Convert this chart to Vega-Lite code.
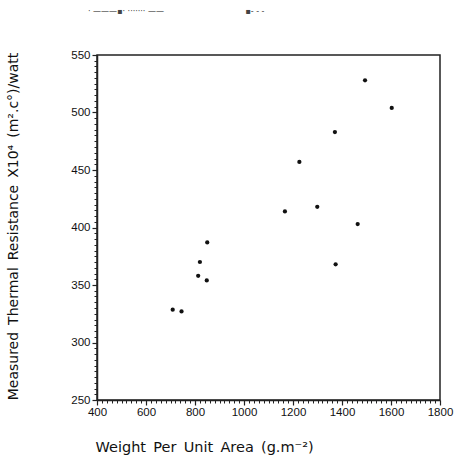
{
  "$schema": "https://vega.github.io/schema/vega-lite/v6.json",
  "width": 343,
  "height": 345,
  "autosize": {"type": "none"},
  "padding": {"left": 97, "top": 55, "right": 16, "bottom": 65},
  "background": "white",
  "config": {
    "view": {"stroke": "#222", "strokeWidth": 1.5},
    "font": "DejaVu Sans"
  },
  "title": {
    "text": "·\u00a0———▪·\u00a0·······\u00a0——\u00a0\u00a0\u00a0\u00a0\u00a0\u00a0\u00a0\u00a0\u00a0\u00a0\u00a0\u00a0\u00a0\u00a0\u00a0\u00a0\u00a0\u00a0\u00a0\u00a0\u00a0\u00a0\u00a0\u00a0\u00a0\u00a0\u00a0\u00a0\u00a0\u00a0\u00a0\u00a0▪- - -",
    "anchor": "start",
    "frame": "group",
    "offset": 33,
    "dx": -9,
    "fontSize": 8,
    "fontWeight": "normal",
    "color": "#444"
  },
  "data": {
    "values": [
      {"w": 709, "r": 328.5},
      {"w": 745, "r": 327},
      {"w": 813, "r": 358},
      {"w": 820, "r": 370},
      {"w": 848, "r": 354},
      {"w": 850, "r": 387},
      {"w": 1167, "r": 414},
      {"w": 1226, "r": 457},
      {"w": 1299, "r": 418},
      {"w": 1371, "r": 483},
      {"w": 1374, "r": 368},
      {"w": 1464, "r": 403},
      {"w": 1494, "r": 528},
      {"w": 1603, "r": 504}
    ]
  },
  "layer": [
    {
      "mark": {"type": "point", "filled": true, "color": "#111", "size": 18, "opacity": 1},
      "encoding": {
        "x": {
          "field": "w", "type": "quantitative",
          "scale": {"domain": [400, 1800], "nice": false, "zero": false},
          "axis": {
            "orient": "bottom",
            "values": [400, 600, 800, 1000, 1200, 1400, 1600, 1800],
            "format": "d",
            "grid": false, "domain": true, "domainColor": "#222", "domainWidth": 1.5,
            "tickColor": "#222", "tickSize": 5, "tickWidth": 1.2,
            "labelFont": "Liberation Sans", "labelFontSize": 11.5, "labelColor": "#111",
            "labelPadding": 1, "labelFlush": false,
            "title": "Weight\u2002Per\u2002Unit\u2002Area\u2002(g.m⁻²)",
            "titleFont": "DejaVu Sans", "titleFontSize": 14.5, "titleFontWeight": "normal",
            "titleColor": "#111", "titleAnchor": "start", "titleAlign": "left",
            "titleX": -2, "titleY": 51, "titleBaseline": "alphabetic"
          }
        },
        "y": {
          "field": "r", "type": "quantitative",
          "scale": {"domain": [250, 550], "nice": false, "zero": false},
          "axis": {
            "orient": "left",
            "values": [250, 300, 350, 400, 450, 500, 550],
            "format": "d",
            "grid": false, "domain": true, "domainColor": "#222", "domainWidth": 1.5,
            "tickColor": "#222", "tickSize": 5, "tickWidth": 1.2,
            "labelFont": "Liberation Sans", "labelFontSize": 11.5, "labelColor": "#111",
            "labelPadding": 2,
            "title": "Measured\u2002Thermal\u2002Resistance\u2002X10⁴\u2002(m².c°)/watt",
            "titleFont": "DejaVu Sans", "titleFontSize": 14, "titleFontWeight": "normal",
            "titleColor": "#111", "titleX": -77, "titleY": 171, "titleAngle": -90,
            "titleBaseline": "bottom", "titleAlign": "center"
          }
        }
      }
    },
    {
      "mark": {"type": "point", "opacity": 0},
      "encoding": {
        "x": {
          "field": "w", "type": "quantitative",
          "scale": {"domain": [400, 1800], "nice": false, "zero": false},
          "axis": {
            "orient": "bottom",
            "values": [420,440,460,480,500,520,540,560,580,620,640,660,680,700,720,740,760,780,820,840,860,880,900,920,940,960,980,1020,1040,1060,1080,1100,1120,1140,1160,1180,1220,1240,1260,1280,1300,1320,1340,1360,1380,1420,1440,1460,1480,1500,1520,1540,1560,1580,1620,1640,1660,1680,1700,1720,1740,1760,1780],
            "grid": false, "domain": false, "labels": false, "title": null,
            "tickColor": "#222", "tickSize": 3, "tickWidth": 1
          }
        },
        "y": {
          "field": "r", "type": "quantitative",
          "scale": {"domain": [250, 550], "nice": false, "zero": false},
          "axis": {
            "orient": "left",
            "values": [255,260,265,270,275,280,285,290,295,305,310,315,320,325,330,335,340,345,355,360,365,370,375,380,385,390,395,405,410,415,420,425,430,435,440,445,455,460,465,470,475,480,485,490,495,505,510,515,520,525,530,535,540,545],
            "grid": false, "domain": false, "labels": false, "title": null,
            "tickColor": "#222", "tickSize": 3, "tickWidth": 1
          }
        }
      }
    }
  ],
  "resolve": {"axis": {"x": "independent", "y": "independent"}}
}
